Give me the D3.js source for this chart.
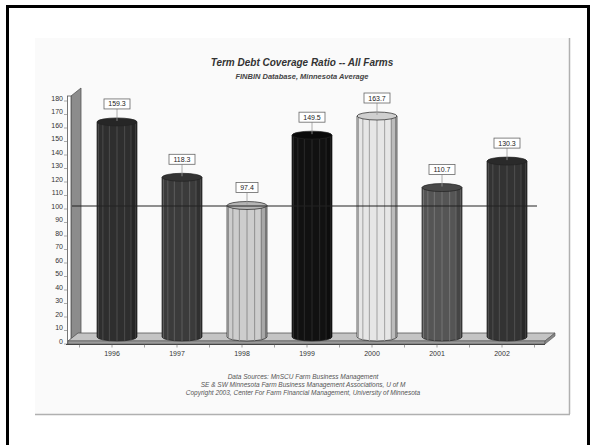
<!DOCTYPE html>
<html>
<head>
<meta charset="utf-8">
<script src="https://d3js.org/d3.v7.min.js"></script>
<style>
  body { margin: 0; background: #fff; }
  svg text { font-family: "Liberation Sans", Arial, sans-serif; }
  .tick-lbl { font-size: 7px; fill: #333; }
  .val-lbl { font-size: 7px; fill: #222; }
</style>
</head>
<body>
<svg id="chart" width="592" height="445"></svg>
<script>
// chart data
var years = ["1996", "1997", "1998", "1999", "2000", "2001", "2002"];
var values = [159.3, 118.3, 97.4, 149.5, 163.7, 110.7, 130.3];
var yTicks = d3.range(0, 181, 10);
var refValue = 100;
// bar shades (body, stripes, top cap)
var barFill = ["#2e2e2e", "#3b3b3b", "#cdcdcd", "#111111", "#e6e6e6", "#555555", "#333333"];
var stripeCol = ["#4c4c4c", "#5c5c5c", "#8e8e8e", "#2a2a2a", "#a0a0a0", "#747474", "#505050"];
var capFill = ["#262626", "#333333", "#b5b5b5", "#0a0a0a", "#cfcfcf", "#484848", "#2a2a2a"];

var svg = d3.select("#chart");

// outer frame + light panel
svg.append("rect").attr("x", 7.5).attr("y", 6.5).attr("width", 581).attr("height", 450)
  .attr("fill", "none").attr("stroke", "#000").attr("stroke-width", 3);
svg.append("rect").attr("x", 35).attr("y", 38).attr("width", 534).attr("height", 376)
  .attr("fill", "#fafafa");
svg.append("line").attr("x1", 569.5).attr("x2", 569.5).attr("y1", 38).attr("y2", 414)
  .attr("stroke", "#b0b0b0").attr("stroke-width", 1.5);
svg.append("line").attr("x1", 35).attr("x2", 570).attr("y1", 414.5).attr("y2", 414.5)
  .attr("stroke", "#b0b0b0").attr("stroke-width", 1.5);

var y = d3.scaleLinear().domain([0, 180]).range([341, 98]);
var x = d3.scaleBand().domain(years).range([79.5, 534.5]).padding(0);
var dx = 10, dy = -8;          // 3d depth
var y0 = y(0);

// left wall
svg.append("path")
  .attr("d", d3.line()([[71, 96], [71 + dx, 96 + dy], [71 + dx, y0 + dy], [71, y0]]) + "Z")
  .attr("fill", "#8c8c8c").attr("stroke", "#555").attr("stroke-width", 0.8);
svg.append("rect").attr("x", 67.5).attr("y", 96).attr("width", 3.5).attr("height", y0 + 3 - 96)
  .attr("fill", "#fff").attr("stroke", "#555").attr("stroke-width", 0.8);

// floor
var fl = 68, fr = 545;
svg.append("path")
  .attr("d", d3.line()([[fl, y0], [fr, y0], [fr + dx, y0 + dy], [fl + dx, y0 + dy]]) + "Z")
  .attr("fill", "#c4c4c4").attr("stroke", "#555").attr("stroke-width", 0.8);
svg.append("path")
  .attr("d", d3.line()([[fl, y0], [fr, y0], [fr, y0 + 3], [fl, y0 + 3]]) + "Z")
  .attr("fill", "#9a9a9a").attr("stroke", "#555").attr("stroke-width", 0.6);
svg.append("path")
  .attr("d", d3.line()([[fr, y0], [fr + dx, y0 + dy], [fr + dx, y0 + dy + 3], [fr, y0 + 3]]) + "Z")
  .attr("fill", "#888").attr("stroke", "#555").attr("stroke-width", 0.6);

// y axis labels
svg.selectAll(".ytick").data(yTicks).enter().append("text")
  .attr("class", "tick-lbl")
  .attr("x", 63).attr("y", function(d) { return y(d) + 2.5; })
  .attr("text-anchor", "end")
  .text(function(d) { return d; });
svg.selectAll(".ytk").data(yTicks).enter().append("line")
  .attr("x1", 64).attr("x2", 67).attr("y1", function(d) { return y(d) + 3; })
  .attr("y2", function(d) { return y(d) + 3; })
  .attr("stroke", "#777").attr("stroke-width", 0.6);

// x axis line + ticks
var axY = y0 + 3.5;
svg.append("line").attr("x1", 66).attr("x2", fr).attr("y1", axY).attr("y2", axY)
  .attr("stroke", "#444").attr("stroke-width", 1);
var tickXs = [];
years.forEach(function(d) { tickXs.push(x(d)); tickXs.push(x(d) + x.bandwidth() / 2); });
tickXs.push(x.range()[1]);
svg.selectAll(".xtk").data(tickXs).enter().append("line")
  .attr("x1", function(d) { return d; }).attr("x2", function(d) { return d; })
  .attr("y1", axY).attr("y2", axY + 3)
  .attr("stroke", "#666").attr("stroke-width", 0.6);
svg.selectAll(".xlbl").data(years).enter().append("text")
  .attr("class", "tick-lbl")
  .attr("x", function(d) { return x(d) + x.bandwidth() / 2; })
  .attr("y", 356)
  .attr("text-anchor", "middle")
  .text(function(d) { return d; });

// cylinders
var r = 20, ry = 4;
var bars = svg.selectAll(".bar").data(years).enter().append("g");
bars.each(function(d, i) {
  var g = d3.select(this);
  var cx = x(d) + x.bandwidth() / 2 + dx / 2;
  var top = y(values[i]) + dy / 2;
  var bot = y0 + dy / 2;
  g.append("path")
    .attr("d", "M" + (cx - r) + "," + top + "L" + (cx - r) + "," + bot +
      "A" + r + "," + ry + " 0 0 0 " + (cx + r) + "," + bot +
      "L" + (cx + r) + "," + top + "Z")
    .attr("fill", barFill[i]).attr("stroke", "#222").attr("stroke-width", 0.7);
  // facet stripes
  var n = 8;
  for (var k = 1; k < n; k++) {
    var fx = cx - r * Math.cos(k * Math.PI / n);
    var h = ry * Math.sin(k * Math.PI / n);
    g.append("line").attr("x1", fx).attr("x2", fx)
      .attr("y1", top).attr("y2", bot + h)
      .attr("stroke", stripeCol[i]).attr("stroke-width", 1);
  }
  // darker shade on right side
  g.append("path")
    .attr("d", "M" + (cx + r * 0.7) + "," + top + "L" + (cx + r * 0.7) + "," + (bot + ry * 0.7) +
      "A" + r + "," + ry + " 0 0 0 " + (cx + r) + "," + bot + "L" + (cx + r) + "," + top + "Z")
    .attr("fill", "#000").attr("opacity", 0.18);
  g.append("ellipse").attr("cx", cx).attr("cy", top).attr("rx", r).attr("ry", ry)
    .attr("fill", capFill[i]).attr("stroke", "#222").attr("stroke-width", 0.7);
  // value label
  var lbl = values[i].toFixed(1);
  var bw = lbl.length * 4 + 6, bh = 10;
  var by = top - 23;
  g.append("line").attr("x1", cx).attr("x2", cx).attr("y1", by + bh).attr("y2", top - 1)
    .attr("stroke", "#999").attr("stroke-width", 0.8);
  g.append("rect").attr("x", cx - bw / 2).attr("y", by).attr("width", bw).attr("height", bh)
    .attr("fill", "#fff").attr("stroke", "#666").attr("stroke-width", 0.8);
  g.append("text").attr("class", "val-lbl").attr("x", cx).attr("y", by + 7.5)
    .attr("text-anchor", "middle").text(lbl);
});

// reference line at 100
svg.append("line").attr("x1", 72).attr("x2", 537)
  .attr("y1", y(refValue)).attr("y2", y(refValue))
  .attr("stroke", "#222").attr("stroke-width", 1);

// titles
svg.append("text").attr("x", 302).attr("y", 66).attr("text-anchor", "middle")
  .style("font-size", "10px").style("font-weight", "bold").style("font-style", "italic")
  .attr("fill", "#333").text("Term Debt Coverage Ratio -- All Farms");
svg.append("text").attr("x", 302).attr("y", 79).attr("text-anchor", "middle")
  .style("font-size", "7.5px").style("font-weight", "bold").style("font-style", "italic")
  .attr("fill", "#444").text("FINBIN Database, Minnesota Average");

// footer
var footer = [
  "Data Sources:  MnSCU Farm Business Management",
  "SE & SW Minnesota Farm Business Management Associations, U of M",
  "Copyright 2003, Center For Farm Financial Management, University of Minnesota"
];
svg.selectAll(".foot").data(footer).enter().append("text")
  .attr("x", 303).attr("y", function(d, i) { return 379 + i * 8; })
  .attr("text-anchor", "middle")
  .style("font-size", "6.5px").style("font-style", "italic")
  .attr("fill", "#555").text(function(d) { return d; });
</script>
</body>
</html>
